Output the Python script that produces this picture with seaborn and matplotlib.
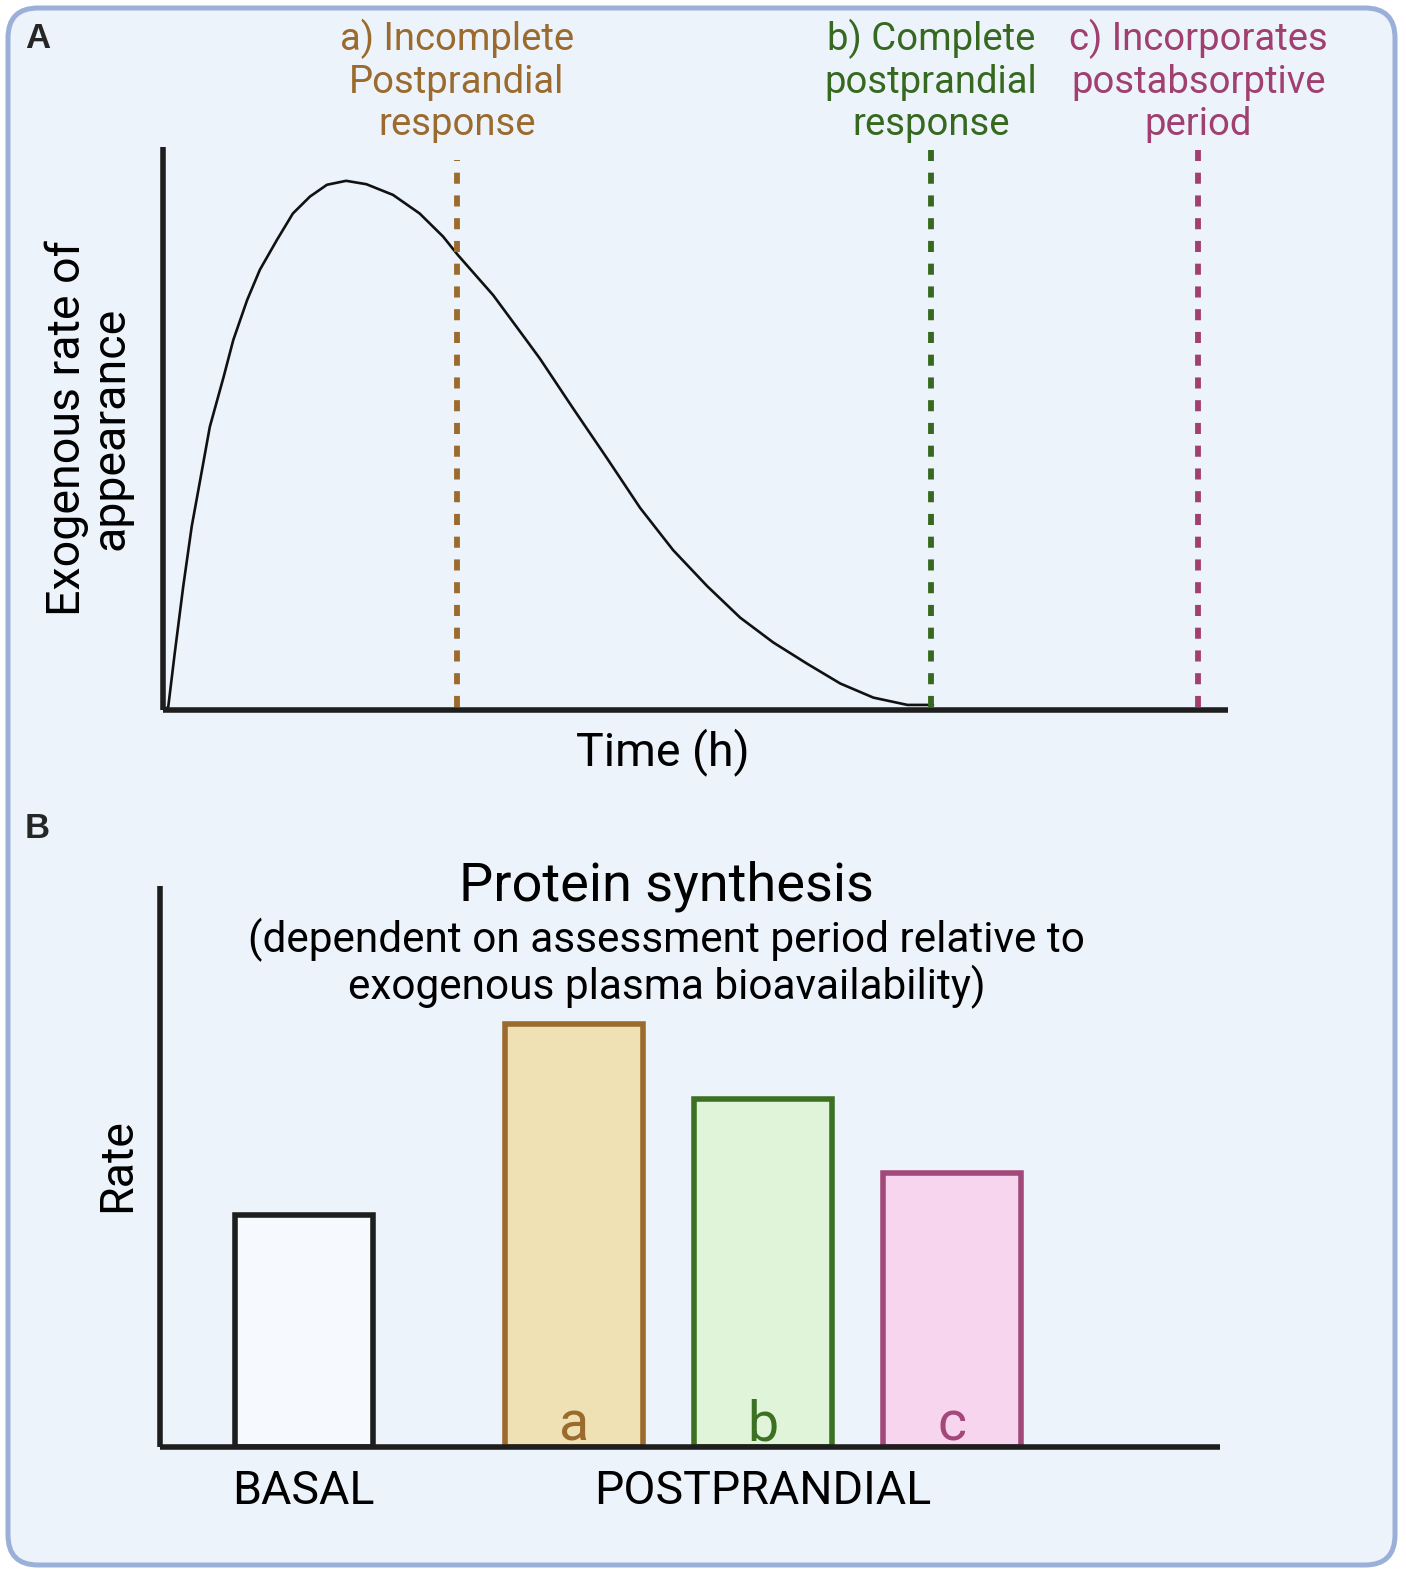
import numpy as np
import pandas as pd
import matplotlib
matplotlib.use("Agg")
import matplotlib.pyplot as plt
import matplotlib.transforms as mtransforms
from matplotlib.patches import FancyBboxPatch
import seaborn as sns

# panel A: exogenous rate of appearance curve (time in arbitrary units, 0-10)
curve_time = [0.02, 0.05, 0.11, 0.19, 0.27, 0.35, 0.44, 0.57, 0.66, 0.79, 0.91,
              1.07, 1.22, 1.38, 1.54, 1.72, 1.91, 2.16, 2.41, 2.63, 2.77,
              3.10, 3.42, 3.54, 3.85, 4.17, 4.48, 4.79, 5.11, 5.42, 5.73,
              6.05, 6.36, 6.67, 6.99, 7.23]
curve_rate = [0.0, 0.006, 0.10, 0.219, 0.326, 0.409, 0.503, 0.592, 0.657, 0.728, 0.782,
              0.835, 0.882, 0.912, 0.933, 0.940, 0.934, 0.915, 0.882, 0.841, 0.808,
              0.737, 0.655, 0.624, 0.536, 0.447, 0.359, 0.284, 0.22, 0.164, 0.12,
              0.082, 0.047, 0.022, 0.009, 0.009]

# assessment period end points
period_time = [2.76, 7.21, 9.72]
period_top = [0.977, 0.995, 0.995]
period_labels = ["a) Incomplete\nPostprandial\nresponse",
                 "b) Complete\npostprandial\nresponse",
                 "c) Incorporates\npostabsorptive\nperiod"]

# panel B: protein synthesis rate
bar_names = ["BASAL", "a", "b", "c"]
bar_rates = [0.414, 0.753, 0.621, 0.488]
bar_pos = [0.76, 2.19, 3.19, 4.19]
group_labels = ["BASAL", "POSTPRANDIAL"]

line_cols = ["#9B6A2D", "#36691F", "#A03F70"]
bar_fill = ["#F6FAFE", "#F0E1B5", "#E0F4DA", "#F7D5EE"]
bar_edge = ["#1E1E1E", "#9B6A2D", "#3C7022", "#A3487A"]
ink = "#1E1E1E"

sns.set_theme(style="white")
plt.rcParams["font.family"] = ["Roboto", "DejaVu Sans"]

fig = plt.figure(figsize=(14.06, 15.76), dpi=100)
fig.patch.set_facecolor("white")

frame = FancyBboxPatch((0.08, 0.11), 13.87, 15.57,
                       boxstyle="round,pad=0,rounding_size=0.3",
                       transform=fig.dpi_scale_trans,
                       facecolor="#EDF3FB", edgecolor="#9BB0D8", linewidth=3.6, zorder=-10)
fig.add_artist(frame)

# ---------------- panel A ----------------
ax1 = fig.add_axes([0.1159, 0.5495, 0.7575, 0.3572])
ax1.set_facecolor("none")
sns.lineplot(x=curve_time, y=curve_rate, ax=ax1, color="#111111", linewidth=1.9,
             estimator=None, solid_joinstyle="round", solid_capstyle="round")
trans = mtransforms.blended_transform_factory(ax1.transData, ax1.transAxes)
for t, top, c, lab in zip(period_time, period_top, line_cols, period_labels):
    ax1.vlines(t, 0.005, top, colors=c, linewidth=4.2, linestyles=(0, (1.9, 2.0)))
    ax1.text(t, 1.118, lab, transform=trans, ha="center", va="center", color=c,
             fontsize=27.5, linespacing=1.17)

ax1.set_xlim(0, 10)
ax1.set_ylim(0, 1)
ax1.set_xticks([])
ax1.set_yticks([])
ax1.set_xlabel("Time (h)", fontsize=33.5, color="black")
ax1.xaxis.set_label_coords(0.4695, -0.075)
ax1.xaxis.label.set_va("center")
ax1.set_ylabel("Exogenous rate of\nappearance", fontsize=33.5, color="black",
               linespacing=1.0)
ax1.yaxis.set_label_coords(-0.07, 0.5)
ax1.yaxis.label.set_va("center")

# ---------------- panel B ----------------
ax2 = fig.add_axes([0.1138, 0.0819, 0.7539, 0.356])
ax2.set_facecolor("none")
sns.barplot(x=bar_pos, y=bar_rates, hue=bar_names, hue_order=bar_names,
            palette=bar_fill, saturation=1, native_scale=True, dodge=False,
            width=0.73, legend=False, ax=ax2)
for cont, ec in zip(ax2.containers, bar_edge):
    for p in cont:
        p.set_edgecolor(ec)
        p.set_linewidth(4)
        p.set_joinstyle("miter")

for x, name, c in zip(bar_pos[1:], bar_names[1:], bar_edge[1:]):
    ax2.text(x, 0.012, name, ha="center", va="baseline", color=c, fontsize=40)

ax2.set_xlim(0, 5.61)
ax2.set_ylim(0, 1)
ax2.set_yticks([])
ax2.set_xticks([bar_pos[0], bar_pos[2]], group_labels)
ax2.tick_params(axis="x", length=0, pad=16, labelsize=33.5, labelcolor="black")
ax2.set_ylabel("Rate", fontsize=33.5, color="black")
ax2.yaxis.set_label_coords(-0.04, 0.503)
ax2.yaxis.label.set_va("center")
ax2.set_xlabel("")

ax2.text(0.478, 0.999, "Protein synthesis", transform=ax2.transAxes, ha="center",
         va="center", fontsize=39, color="black")
ax2.text(0.478, 0.862, "(dependent on assessment period relative to\n"
         "exogenous plasma bioavailability)", transform=ax2.transAxes, ha="center",
         va="center", fontsize=30.5, color="black", linespacing=1.1)

for ax in (ax1, ax2):
    sns.despine(ax=ax)
    for side in ("left", "bottom"):
        ax.spines[side].set_linewidth(4)
        ax.spines[side].set_color(ink)
        ax.spines[side].set_capstyle("butt")

fig.text(38 / 1406, 1 - 38 / 1576, "A", fontsize=25, fontweight="bold",
         family=["Liberation Sans", "DejaVu Sans"], ha="center", va="center")
fig.text(37 / 1406, 1 - 829 / 1576, "B", fontsize=25, fontweight="bold",
         family=["Liberation Sans", "DejaVu Sans"], ha="center", va="center")

fig.savefig("out.png", dpi=100, facecolor="white")
